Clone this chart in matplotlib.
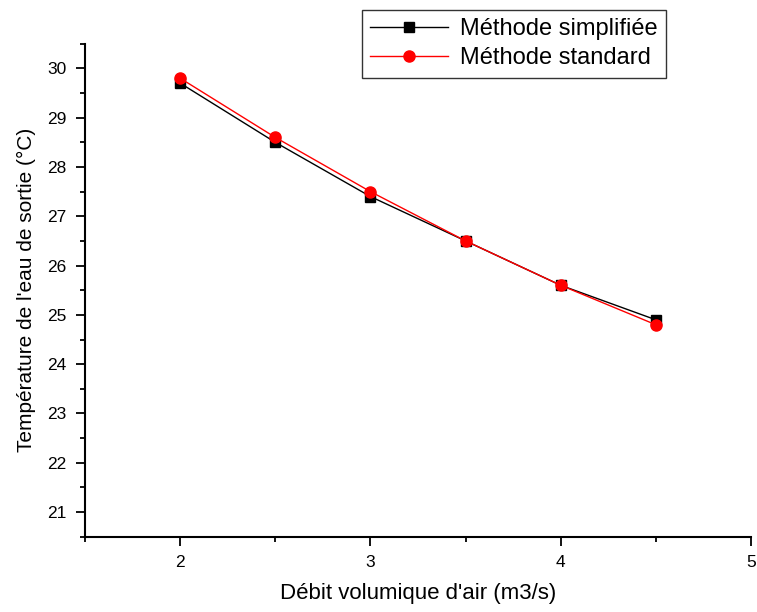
import matplotlib.pyplot as plt
from matplotlib.ticker import MultipleLocator

plt.rcParams['font.family'] = ['Liberation Sans', 'DejaVu Sans']

# data
debit = [2, 2.5, 3, 3.5, 4, 4.5]
temp_simplifiee = [29.7, 28.5, 27.4, 26.5, 25.6, 24.9]
temp_standard = [29.8, 28.6, 27.5, 26.5, 25.6, 24.8]

fig = plt.figure(figsize=(7.57, 6.12), dpi=100)
ax = fig.add_axes([0.1123, 0.123, 0.8797, 0.8056])

ax.plot(debit, temp_simplifiee, color='black', marker='s', ms=7.5, lw=1,
        label='Méthode simplifiée')
ax.plot(debit, temp_standard, color='red', marker='o', ms=8, lw=1,
        label='Méthode standard')

ax.set_xlim(1.5, 5)
ax.set_ylim(20.5, 30.5)
ax.xaxis.set_major_locator(MultipleLocator(1))
ax.xaxis.set_minor_locator(MultipleLocator(0.5))
ax.yaxis.set_major_locator(MultipleLocator(1))
ax.yaxis.set_minor_locator(MultipleLocator(0.5))

for s in ['top', 'right']:
    ax.spines[s].set_visible(False)
for s in ['left', 'bottom']:
    ax.spines[s].set_linewidth(1.5)

ax.tick_params(which='major', direction='out', length=6.5, width=1.3, labelsize=12.5, pad=7)
ax.tick_params(which='minor', direction='out', length=3.5, width=1.3)

ax.set_xlabel("Débit volumique d'air (m3/s)", fontsize=16, labelpad=9)
ax.set_ylabel("Température de l'eau de sortie (°C)", fontsize=15, labelpad=8)

leg = fig.legend(loc='upper left', bbox_to_anchor=(362 / 757, 1 - 10 / 612),
                 borderaxespad=0, fontsize=17, frameon=True, fancybox=False,
                 edgecolor='black', handlelength=3.3, borderpad=0.35,
                 labelspacing=0.3, handletextpad=0.5)
leg.get_frame().set_linewidth(1)

fig.savefig('out.png', dpi=100)
